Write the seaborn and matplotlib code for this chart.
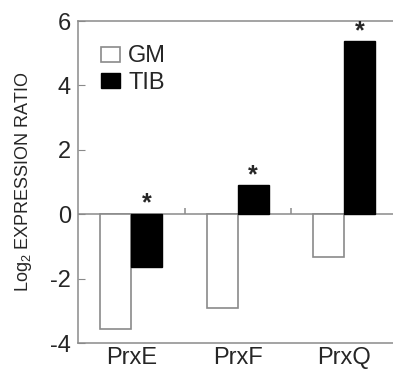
import matplotlib
matplotlib.use("Agg")
import matplotlib.pyplot as plt
import seaborn as sns
import pandas as pd

genes = ["PrxE", "PrxF", "PrxQ"]
gm_values = [-3.58, -2.9, -1.33]
tib_values = [-1.65, 0.9, 5.37]
significant_tib = [True, True, True]

df = pd.DataFrame({
    "gene": genes * 2,
    "group": ["GM"] * 3 + ["TIB"] * 3,
    "ratio": gm_values + tib_values,
})

sns.set_style("white")
plt.rcParams["font.family"] = ["Liberation Sans", "DejaVu Sans"]
plt.rcParams["mathtext.default"] = "regular"
plt.rcParams["axes.unicode_minus"] = False

fig = plt.figure(figsize=(3.93, 3.69), dpi=100)
ax = fig.add_axes([78 / 393, 26 / 369, 319.5 / 393, 322 / 369])

sns.barplot(
    data=df, x="gene", y="ratio", hue="group",
    palette={"GM": "white", "TIB": "black"},
    width=0.58, gap=0, legend=False, ax=ax,
)
for bar in ax.containers[0]:
    bar.set_edgecolor("#8a8a8a")
    bar.set_linewidth(1.2)
for bar in ax.containers[1]:
    bar.set_edgecolor("black")
    bar.set_linewidth(1.0)

# zero line and category separators
ax.axhline(0, color="#8a8a8a", lw=1.1, zorder=0.5)
ax.vlines([0.5, 1.5], 0, 0.18, color="#8a8a8a", lw=1.1)

# significance marks
for bar, sig in zip(ax.containers[1], significant_tib):
    if sig:
        top = max(bar.get_height() + bar.get_y(), bar.get_y())
        ax.text(bar.get_x() + bar.get_width() / 2, top - 0.05, "*",
                ha="center", va="bottom", fontsize=18, fontweight="bold")

ax.set_xlim(-0.5, 2.5)
ax.set_ylim(-4, 6)
ax.set_yticks([-4, -2, 0, 2, 4, 6])
ax.set_xlabel("")
ax.set_ylabel("Log$_2$ EXPRESSION RATIO", fontsize=13, labelpad=12)
ax.tick_params(axis="y", direction="in", length=5, color="#8a8a8a",
               labelsize=17, pad=5, left=True)
ax.tick_params(axis="x", length=0, labelsize=17, pad=3)
for spine in ax.spines.values():
    spine.set_color("#8a8a8a")
    spine.set_linewidth(1.1)

ax.legend(
    handles=[ax.containers[0][0], ax.containers[1][0]],
    labels=["GM", "TIB"], frameon=False, loc="upper left",
    bbox_to_anchor=(0.005, 0.99), fontsize=17, handlelength=0.8,
    handleheight=0.6, handletextpad=0.35, labelspacing=0.2,
)

fig.savefig("out.png", dpi=100)
